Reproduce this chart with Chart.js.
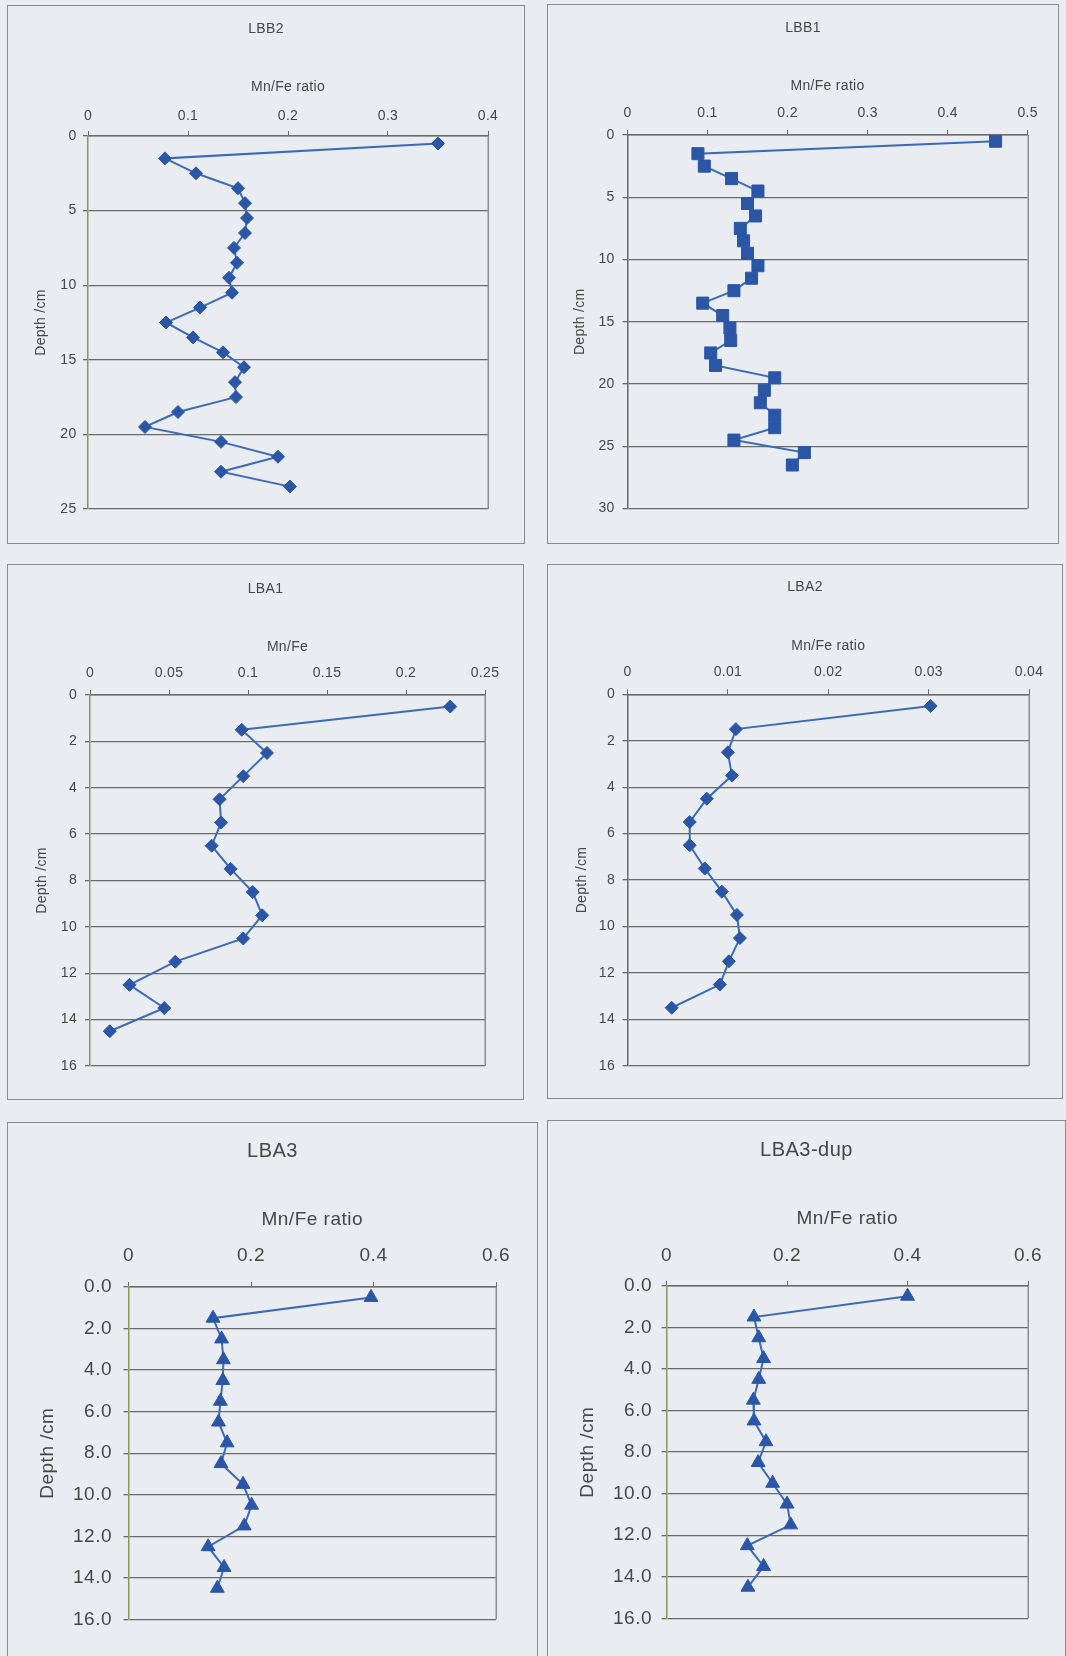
<!DOCTYPE html>
<html>
<head>
<meta charset="utf-8">
<title>Mn/Fe ratio depth profiles</title>
<script src="https://cdn.jsdelivr.net/npm/chart.js@4.4.1/dist/chart.umd.min.js"></script>
<style>
  html, body { margin: 0; padding: 0; width: 1066px; height: 1656px; overflow: hidden; background: #e9ecf1; }
  .panel { position: absolute; border: 1.5px solid #8c8c8c; box-sizing: border-box; }
  .plot { position: absolute; }
</style>
</head>
<body>
<script>
// ---- Core data: Mn/Fe ratio against depth (cm, slice mid-points) ----
const LBB2_DEPTH = [0.5, 1.5, 2.5, 3.5, 4.5, 5.5, 6.5, 7.5, 8.5, 9.5, 10.5, 11.5, 12.5, 13.5, 14.5, 15.5, 16.5, 17.5, 18.5, 19.5, 20.5, 21.5, 22.5, 23.5];
const LBB2_RATIO = [0.350, 0.077, 0.108, 0.150, 0.157, 0.159, 0.157, 0.146, 0.149, 0.141, 0.144, 0.112, 0.078, 0.105, 0.135, 0.156, 0.147, 0.148, 0.090, 0.057, 0.133, 0.190, 0.133, 0.202];

const LBB1_DEPTH = [0.5, 1.5, 2.5, 3.5, 4.5, 5.5, 6.5, 7.5, 8.5, 9.5, 10.5, 11.5, 12.5, 13.5, 14.5, 15.5, 16.5, 17.5, 18.5, 19.5, 20.5, 21.5, 22.5, 23.5, 24.5, 25.5, 26.5];
const LBB1_RATIO = [0.460, 0.088, 0.096, 0.130, 0.163, 0.150, 0.160, 0.141, 0.145, 0.150, 0.163, 0.155, 0.133, 0.094, 0.119, 0.128, 0.129, 0.104, 0.110, 0.184, 0.171, 0.166, 0.184, 0.184, 0.133, 0.221, 0.206];

const LBA1_DEPTH = [0.5, 1.5, 2.5, 3.5, 4.5, 5.5, 6.5, 7.5, 8.5, 9.5, 10.5, 11.5, 12.5, 13.5, 14.5];
const LBA1_RATIO = [0.228, 0.096, 0.112, 0.097, 0.082, 0.083, 0.077, 0.089, 0.103, 0.109, 0.097, 0.054, 0.025, 0.047, 0.0125];

const LBA2_DEPTH = [0.5, 1.5, 2.5, 3.5, 4.5, 5.5, 6.5, 7.5, 8.5, 9.5, 10.5, 11.5, 12.5, 13.5];
const LBA2_RATIO = [0.0302, 0.0108, 0.0100, 0.0104, 0.0079, 0.0062, 0.0062, 0.0077, 0.0094, 0.0109, 0.0112, 0.0101, 0.0092, 0.0044];

const LBA3_DEPTH = [0.5, 1.5, 2.5, 3.5, 4.5, 5.5, 6.5, 7.5, 8.5, 9.5, 10.5, 11.5, 12.5, 13.5, 14.5];
const LBA3_RATIO = [0.396, 0.138, 0.152, 0.155, 0.154, 0.150, 0.147, 0.161, 0.151, 0.187, 0.201, 0.189, 0.130, 0.156, 0.145];

const LBA3DUP_DEPTH = [0.5, 1.5, 2.5, 3.5, 4.5, 5.5, 6.5, 7.5, 8.5, 9.5, 10.5, 11.5, 12.5, 13.5, 14.5];
const LBA3DUP_RATIO = [0.400, 0.145, 0.153, 0.161, 0.153, 0.144, 0.145, 0.165, 0.152, 0.176, 0.200, 0.206, 0.134, 0.161, 0.135];

// ---- Tick labels ----
const LBB2_RATIO_TICKS = ['0', '0.1', '0.2', '0.3', '0.4'];
const LBB2_DEPTH_TICKS = ['0', '5', '10', '15', '20', '25'];
const LBB1_RATIO_TICKS = ['0', '0.1', '0.2', '0.3', '0.4', '0.5'];
const LBB1_DEPTH_TICKS = ['0', '5', '10', '15', '20', '25', '30'];
const LBA1_RATIO_TICKS = ['0', '0.05', '0.1', '0.15', '0.2', '0.25'];
const LBA1_DEPTH_TICKS = ['0', '2', '4', '6', '8', '10', '12', '14', '16'];
const LBA2_RATIO_TICKS = ['0', '0.01', '0.02', '0.03', '0.04'];
const LBA2_DEPTH_TICKS = ['0', '2', '4', '6', '8', '10', '12', '14', '16'];
const LBA3_RATIO_TICKS = ['0', '0.2', '0.4', '0.6'];
const LBA3_DEPTH_TICKS = ['0.0', '2.0', '4.0', '6.0', '8.0', '10.0', '12.0', '14.0', '16.0'];

// ---- Styling ----
const FONT = "'Liberation Sans', Arial, sans-serif";
const TEXT = '#474747';
const LINE = '#3d6ab8';
const MARK = '#2b56a6';
const GRID = '#6a6a6a';
const FRAME = '#8d8d8d';
const OLIVE = '#8a9860';
const TL = 5; // tick mark length

// Right-hand edge of the plot frame
const frameRight = {
  id: 'frameRight',
  beforeDatasetsDraw(chart) {
    const {ctx, chartArea: a} = chart;
    ctx.save();
    ctx.strokeStyle = FRAME;
    ctx.lineWidth = 1.5;
    ctx.beginPath();
    ctx.moveTo(Math.round(a.right) + 0.25, a.top);
    ctx.lineTo(Math.round(a.right) + 0.25, a.bottom);
    ctx.stroke();
    ctx.restore();
  }
};

function letterSpacing(px) {
  return {
    id: 'letterSpacing',
    beforeDraw(chart) { chart.ctx.letterSpacing = px + 'px'; }
  };
}

function addPanel(cfg) {
  const g = cfg.geom;
  const [bx, by, bw, bh] = g.box;
  const [pl, pt, pr, pb] = g.plot;

  const frame = document.createElement('div');
  frame.className = 'panel';
  Object.assign(frame.style, {left: bx + 'px', top: by + 'px', width: bw + 'px', height: (g.frameH || bh) + 'px'});
  document.body.appendChild(frame);

  const wrap = document.createElement('div');
  wrap.className = 'plot';
  Object.assign(wrap.style, {left: bx + 'px', top: by + 'px', width: bw + 'px', height: bh + 'px'});
  const canvas = document.createElement('canvas');
  wrap.appendChild(canvas);
  document.body.appendChild(wrap);

  const side = bx + bw - pr;                       // equal side padding keeps the title centred
  const titleTop = g.titleY - by - 0.6 * g.fTitle;
  const titleBlock = titleTop + 1.2 * g.fTitle;
  const xAxisTop = by + titleBlock;

  const xVals = cfg.xTicks.map(Number);
  const yVals = cfg.yTicks.map(Number);
  const font = s => ({family: FONT, size: s, weight: 'normal'});

  new Chart(canvas, {
    type: 'scatter',
    data: {
      datasets: [{
        data: cfg.depth.map((d, i) => ({x: cfg.ratio[i], y: d})),
        showLine: true,
        borderColor: LINE,
        borderWidth: 2,
        pointStyle: cfg.marker,
        pointRadius: cfg.radius,
        pointHoverRadius: cfg.radius,
        pointBackgroundColor: MARK,
        pointBorderColor: MARK,
        pointBorderWidth: 1
      }]
    },
    options: {
      responsive: true,
      maintainAspectRatio: false,
      animation: false,
      events: [],
      layout: {padding: {left: side, right: side, top: 0, bottom: by + bh - pb}},
      plugins: {
        legend: {display: false},
        tooltip: {enabled: false},
        title: {
          display: true, text: cfg.name, color: TEXT, font: font(g.fTitle),
          padding: {top: titleTop, bottom: 0}
        }
      },
      scales: {
        x: {
          type: 'linear', position: 'top',
          min: xVals[0], max: xVals[xVals.length - 1],
          afterBuildTicks: s => { s.ticks = xVals.map(v => ({value: v})); },
          afterFit: s => { s.height = pt - xAxisTop; },
          ticks: {
            callback: (v, i) => cfg.xTicks[i],
            padding: pt - TL - 0.6 * g.fTick - g.tickY,
            autoSkip: false, maxRotation: 0, color: TEXT, font: font(g.fTick)
          },
          grid: {drawOnChartArea: false, drawTicks: true, tickLength: TL, tickColor: GRID, color: GRID},
          border: {display: true, color: GRID, width: 1.5},
          title: {
            display: true, text: cfg.xTitle, color: TEXT, font: font(g.fAxis),
            padding: {top: g.axisTitleY - xAxisTop - 0.6 * g.fAxis, bottom: 0}
          }
        },
        y: {
          type: 'linear', reverse: true,
          min: yVals[0], max: yVals[yVals.length - 1],
          afterBuildTicks: s => { s.ticks = yVals.map(v => ({value: v})); },
          afterFit: s => { s.width = pl - bx - side; },
          ticks: {
            callback: (v, i) => cfg.yTicks[i],
            padding: pl - TL - g.yTickRight,
            autoSkip: false, color: TEXT, font: font(g.fTick)
          },
          grid: {color: GRID, lineWidth: 1.3, tickLength: TL, tickColor: GRID},
          border: {display: true, color: cfg.yAxisColor, width: 1.5},
          title: {
            display: true, text: 'Depth /cm', color: TEXT, font: font(g.fAxis),
            padding: {top: g.yTitleX - (bx + side) - 0.6 * g.fAxis, bottom: 0}
          }
        }
      }
    },
    plugins: [frameRight, letterSpacing(g.spacing)]
  });
}

const small = {fTitle: 14, fAxis: 14, fTick: 14, spacing: 0.3};
const large = {fTitle: 20, fAxis: 19, fTick: 19, spacing: 0.5};

addPanel({
  name: 'LBB2', xTitle: 'Mn/Fe ratio', depth: LBB2_DEPTH, ratio: LBB2_RATIO,
  xTicks: LBB2_RATIO_TICKS, yTicks: LBB2_DEPTH_TICKS, marker: 'rectRot', radius: 6.5, yAxisColor: OLIVE,
  geom: Object.assign({box: [7, 5, 518, 539], plot: [88, 136, 488, 509], titleY: 29, axisTitleY: 87, tickY: 115.7, yTickRight: 76.5, yTitleX: 41.5}, small)
});
addPanel({
  name: 'LBB1', xTitle: 'Mn/Fe ratio', depth: LBB1_DEPTH, ratio: LBB1_RATIO,
  xTicks: LBB1_RATIO_TICKS, yTicks: LBB1_DEPTH_TICKS, marker: 'rect', radius: 8.5, yAxisColor: GRID,
  geom: Object.assign({box: [547, 4, 512, 540], plot: [627.5, 135, 1027.6, 508.6], titleY: 28, axisTitleY: 86, tickY: 113, yTickRight: 614.6, yTitleX: 580.6}, small)
});
addPanel({
  name: 'LBA1', xTitle: 'Mn/Fe', depth: LBA1_DEPTH, ratio: LBA1_RATIO,
  xTicks: LBA1_RATIO_TICKS, yTicks: LBA1_DEPTH_TICKS, marker: 'rectRot', radius: 6.5, yAxisColor: OLIVE,
  geom: Object.assign({box: [7, 564, 517, 536], plot: [90, 695, 485, 1066], titleY: 588.8, axisTitleY: 647, tickY: 673, yTickRight: 77, yTitleX: 42.5}, small)
});
addPanel({
  name: 'LBA2', xTitle: 'Mn/Fe ratio', depth: LBA2_DEPTH, ratio: LBA2_RATIO,
  xTicks: LBA2_RATIO_TICKS, yTicks: LBA2_DEPTH_TICKS, marker: 'rectRot', radius: 6.5, yAxisColor: GRID,
  geom: Object.assign({box: [547, 564, 516, 535], plot: [627.5, 694.3, 1029, 1065.8], titleY: 587, axisTitleY: 646, tickY: 672, yTickRight: 615, yTitleX: 582}, small)
});
addPanel({
  name: 'LBA3', xTitle: 'Mn/Fe ratio', depth: LBA3_DEPTH, ratio: LBA3_RATIO,
  xTicks: LBA3_RATIO_TICKS, yTicks: LBA3_DEPTH_TICKS, marker: 'triangle', radius: 8, yAxisColor: OLIVE,
  geom: Object.assign({box: [7, 1122, 531, 534], frameH: 560, plot: [128.5, 1287, 496, 1619.4], titleY: 1151, axisTitleY: 1219.7, tickY: 1256, yTickRight: 112, yTitleX: 47.6}, large)
});
addPanel({
  name: 'LBA3-dup', xTitle: 'Mn/Fe ratio', depth: LBA3DUP_DEPTH, ratio: LBA3DUP_RATIO,
  xTicks: LBA3_RATIO_TICKS, yTicks: LBA3_DEPTH_TICKS, marker: 'triangle', radius: 8, yAxisColor: OLIVE,
  geom: Object.assign({box: [547, 1120, 519, 536], frameH: 560, plot: [666.6, 1285.8, 1028, 1618.4], titleY: 1150, axisTitleY: 1218.6, tickY: 1256, yTickRight: 652, yTitleX: 588}, large)
});
</script>
</body>
</html>
